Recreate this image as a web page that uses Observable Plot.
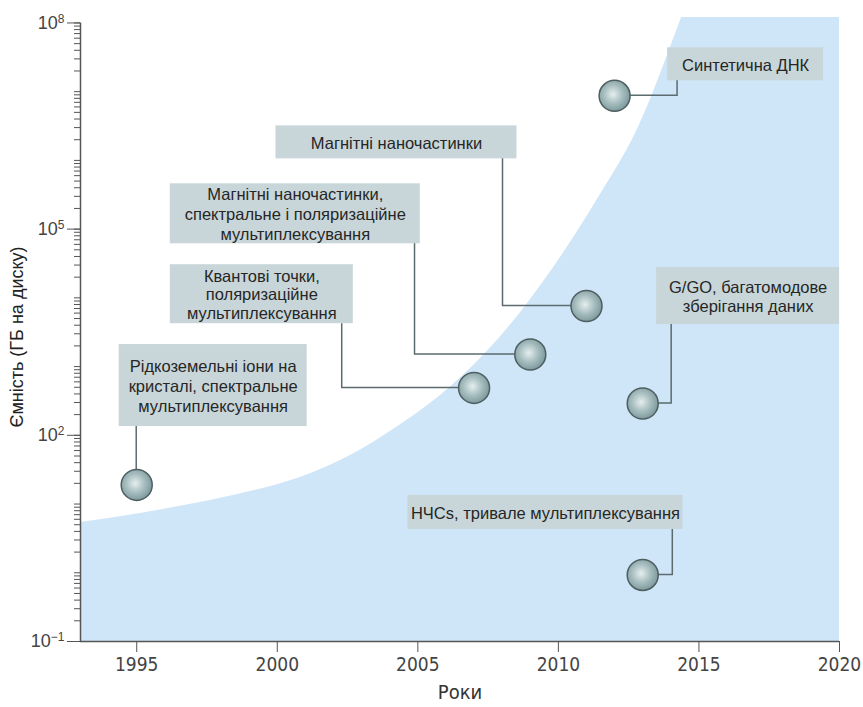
<!DOCTYPE html>
<html><head><meta charset="utf-8">
<script src="https://cdn.jsdelivr.net/npm/d3@7"></script>
<script src="https://cdn.jsdelivr.net/npm/@observablehq/plot@0.6"></script>
<style>body{margin:0;background:#fff}</style>
</head><body>
<div id="chart"></div>
<script>
// ---- data ----
const curveYears  = [1993, 1995.13, 1997.26, 1999.04, 2000.82, 2002.6, 2004.37, 2006.14, 2007.92, 2009.7, 2011.47, 2012.79, 2014.42, 2015.2];
const curveValues = [5.4, 7.3, 10.5, 15.2, 24.4, 50.8, 141, 495, 2640, 23200, 306000, 2.69e6, 1.31e8, 9.3e8];

const pointYears  = [1995, 2007, 2009, 2011, 2012, 2013, 2013];
const pointValues = [19, 490, 1500, 7600, 8.7e6, 290, 0.93];
const pointLabels = [
  "Рідкоземельні іони на\nкристалі, спектральне\nмультиплексування",
  "Квантові точки,\nполяризаційне\nмультиплексування",
  "Магнітні наночастинки,\nспектральне і поляризаційне\nмультиплексування",
  "Магнітні наночастинки",
  "Синтетична ДНК",
  "G/GO, багатомодове\nзберігання даних",
  "НЧCs, тривале мультиплексування"
];

const xTicks = [1995, 2000, 2005, 2010, 2015, 2020];
const yMajorTicks = [0.1, 100, 1e5, 1e8];
const yMajorExponents = ["−1", "2", "5", "8"];
const xTitle = "Роки";
const yTitle = "Ємність (ГБ на диску)";

// ---- annotation layout (label anchor in data space, box size in px) ----
const labelYears  = [1997.72, 1999.45, 2000.64, 2004.24, 2016.66, 2016.75, 2009.54];
const labelValues = [530, 11300, 167000, 1.83e6, 2.5e7, 10600, 7.55];
const connYears   = [1995, 2002.31, 2004.9, 2008.03, 2014.24, 2014.03, 2014.07];
const boxW = [188, 183, 250, 241, 156, 183, 275];
const boxH = [82, 59, 60, 33, 33, 57, 34];
const tight = [false, true, false, false, false, false, false];

const curve = curveYears.map((x, i) => ({x, y: curveValues[i]}));
const points = pointYears.map((x, i) => ({
  x, y: pointValues[i], label: pointLabels[i],
  lx: labelYears[i], ly: labelValues[i], cx: connYears[i],
  w: boxW[i], h: boxH[i], tight: tight[i]
}));

const minorTicks = [];
for (let e = -1; e < 8; e++) for (let m = 1; m < 10; m++) minorTicks.push(+(m * Math.pow(10, e)).toPrecision(6));
minorTicks.push(1e8);

const NS = "http://www.w3.org/2000/svg";
function el(name, attrs) {
  const e = document.createElementNS(NS, name);
  for (const k in attrs) e.setAttribute(k, attrs[k]);
  return e;
}

function defsMark() {
  const defs = el("defs", {});
  const g = el("radialGradient", {id: "sphere", cx: "0.45", cy: "0.45", r: "0.6"});
  [["0", "#e6eeee"], ["0.5", "#a7bec0"], ["1", "#769396"]].forEach(([o, c]) => g.appendChild(el("stop", {offset: o, "stop-color": c})));
  defs.appendChild(g);
  return defs;
}

function boxesMark(index, scales) {
  const g = el("g", {});
  points.forEach(p => {
    const cx = scales.x(p.lx), cy = scales.y(p.ly);
    g.appendChild(el("rect", {x: cx - p.w / 2, y: cy - p.h / 2, width: p.w, height: p.h, fill: "#c8d6d9"}));
  });
  return g;
}

function connectorsMark(index, scales) {
  const g = el("g", {fill: "none", stroke: "#5b6b6e", "stroke-width": 1.5});
  points.forEach(p => {
    const x0 = scales.x(p.cx);
    const y0 = scales.y(p.ly) + p.h / 2;
    const y1 = scales.y(p.y);
    const x1 = scales.x(p.x);
    g.appendChild(el("path", {d: `M${x0},${y0}V${y1}H${x1}`}));
  });
  return g;
}

function yTitleMark(index, scales, values, dim) {
  const midY = (dim.marginTop + dim.height - dim.marginBottom) / 2;
  const t = el("text", {transform: `translate(18,${midY + 8}) rotate(-90)`, "text-anchor": "middle",
    "dominant-baseline": "middle", "font-size": 18, "font-family": "'Liberation Sans', Arial, sans-serif", fill: "#222"});
  t.textContent = yTitle;
  return t;
}

const tickFont = "'Liberation Sans Narrow', 'DejaVu Sans Condensed', 'Liberation Sans', sans-serif";
const labelFont = "'Liberation Sans', Arial, sans-serif";

const chart = Plot.plot({
  width: 863,
  height: 707,
  marginLeft: 80,
  marginRight: 24,
  marginTop: 17,
  marginBottom: 66,
  style: {background: "white", overflow: "visible"},
  x: {domain: [1993, 2020]},
  y: {type: "log", domain: [0.1, 1.2e8]},
  marks: [
    defsMark,
    Plot.areaY(curve, {x: "x", y1: 0.1, y2: "y", curve: "monotone-x", fill: "#cfe5f8", clip: true}),
    Plot.rectY([0], {x1: 2014.4, x2: 2020, y1: 0.1, y2: 1.2e8, fill: "#cfe5f8"}),
    boxesMark,
    connectorsMark,
    Plot.text(points, {x: "lx", y: "ly", text: "label", lineHeight: 1.2, fontSize: 16.5,
      fontFamily: labelFont, fill: "#262626", filter: d => !d.tight}),
    Plot.text(points, {x: "lx", y: "ly", text: "label", lineHeight: 1.12, fontSize: 16.5,
      fontFamily: labelFont, fill: "#262626", filter: d => d.tight}),
    Plot.dot(points, {x: "x", y: "y", r: 15.5, fill: "url(#sphere)", stroke: "#4e5e61", strokeWidth: 1.5}),
    Plot.ruleX([1993], {y1: 0.1, y2: 1e8, stroke: "#555", strokeWidth: 1.5}),
    Plot.ruleY([0.1], {stroke: "#555", strokeWidth: 1.5}),
    Plot.axisX({ticks: xTicks, tickFormat: d => String(d), tickSize: 11, tickPadding: 5, stroke: "#555",
      fontSize: 19, fontFamily: tickFont, fill: "#444", label: null}),
    Plot.axisY({ticks: minorTicks, tickSize: 6, tickFormat: () => "", stroke: "#555", label: null}),
    Plot.axisY({ticks: yMajorTicks, tickSize: 13, tickPadding: 3, stroke: "#555",
      tickFormat: d => "10^" + yMajorExponents[yMajorTicks.indexOf(d)],
      fontSize: 18, fontFamily: labelFont, fill: "#444", label: null}),
    Plot.text([xTitle], {frameAnchor: "bottom", dy: 57, fontSize: 20, fontFamily: tickFont, fill: "#333"}),
    yTitleMark
  ]
});
// render superscript exponents as real tspans
chart.querySelectorAll("text").forEach(t => {
  const m = /^10\^(.+)$/.exec(t.textContent);
  if (!m) return;
  t.textContent = "10";
  const s = document.createElementNS(NS, "tspan");
  s.setAttribute("dy", "-0.5em");
  s.setAttribute("font-size", "12");
  s.textContent = m[1];
  t.appendChild(s);
});
document.getElementById("chart").appendChild(chart);
</script>
</body></html>
